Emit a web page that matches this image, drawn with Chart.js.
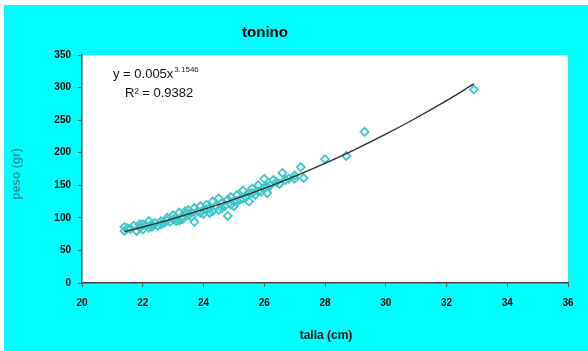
<!DOCTYPE html>
<html>
<head>
<meta charset="utf-8">
<script src="https://cdn.jsdelivr.net/npm/chart.js@4.4.1/dist/chart.umd.min.js"></script>
<style>
  html, body { margin: 0; padding: 0; background: #fff; }
  canvas { display: block; }
</style>
</head>
<body>
<canvas id="chart" width="588" height="351"></canvas>
<script>
// talla (cm) / peso (gr)
const talla = [21.4, 21.4, 21.5, 21.6, 21.7, 21.8, 21.9, 21.9, 22.0, 22.0, 22.1, 22.2, 22.2, 22.3, 22.3, 22.4, 22.5, 22.6,
  22.6, 22.7, 22.8, 22.8, 22.9, 23.0, 23.0, 23.1, 23.1, 23.2, 23.2, 23.3, 23.3, 23.4, 23.4, 23.5, 23.5, 23.6, 23.6, 23.7,
  23.7, 23.8, 23.9, 23.9, 24.0, 24.0, 24.1, 24.1, 24.2, 24.2, 24.3, 24.3, 24.4, 24.5, 24.5, 24.6, 24.6, 24.7, 24.8, 24.8,
  24.9, 24.9, 25.0, 25.0, 25.1, 25.1, 25.2, 25.3, 25.3, 25.4, 25.5, 25.5, 25.6, 25.6, 25.7, 25.8, 25.8, 25.9, 26.0, 26.0,
  26.1, 26.1, 26.2, 26.3, 26.4, 26.5, 26.6, 26.7, 26.8, 27.0, 27.0, 27.2, 27.3, 28.0, 28.7, 29.3, 32.9];
const peso = [80, 86, 84, 83, 88, 80, 85, 90, 82, 90, 88, 95, 85, 90, 86, 92, 88, 95,
  90, 92, 100, 96, 94, 98, 104, 100, 95, 96, 108, 102, 98, 110, 105, 104, 112, 108, 102, 94,
  115, 110, 118, 108, 112, 106, 120, 113, 108, 115, 125, 110, 118, 112, 130, 122, 115, 118, 103, 128,
  132, 120, 125, 118, 135, 126, 128, 142, 130, 132, 138, 125, 145, 138, 135, 150, 141, 140, 160, 146,
  138, 148, 150, 158, 155, 152, 169, 158, 160, 165, 160, 178, 161, 190, 195, 232, 297];

// power trendline as drawn (y = 0.005x^3.1546)
const trendX = [21.4, 22, 23, 24, 25, 26, 27, 28, 29, 30, 31, 32, 32.9];
const trendY = [78.7, 85.9, 98.8, 113.0, 128.5, 145.4, 163.8, 183.7, 205.2, 228.4, 253.3, 279.9, 305.6];

const xTicks = [20, 22, 24, 26, 28, 30, 32, 34, 36];
const yTicks = [0, 50, 100, 150, 200, 250, 300, 350];

const points = talla.map((t, i) => ({ x: t, y: peso[i] }));
const trend = trendX.map((t, i) => ({ x: t, y: trendY[i] }));

const decor = {
  id: 'decor',
  beforeDraw(chart) {
    const { ctx, chartArea: a } = chart;
    ctx.save();
    ctx.fillStyle = '#ffffff';
    ctx.fillRect(0, 0, chart.width, chart.height);
    ctx.fillStyle = '#00ffff';
    ctx.fillRect(4, 5, chart.width - 4, chart.height - 5);
    ctx.fillStyle = '#ffffff';
    ctx.fillRect(a.left, a.top, a.right - a.left, a.bottom - a.top);
    ctx.restore();
  },
  afterDraw(chart) {
    const ctx = chart.ctx;
    ctx.save();
    ctx.fillStyle = '#000';
    ctx.textBaseline = 'middle';
    ctx.textAlign = 'center';
    ctx.font = 'bold 15px "Liberation Sans", Arial, sans-serif';
    ctx.fillText('tonino', 265, 33);

    ctx.fillStyle = '#111';
    ctx.font = 'bold 12px "Liberation Sans", Arial, sans-serif';
    ctx.fillText('talla (cm)', 326, 336);

    ctx.fillStyle = '#1a9aa6';
    ctx.translate(17, 174);
    ctx.rotate(-Math.PI / 2);
    ctx.fillText('peso (gr)', 0, 0);
    ctx.restore();

    // trendline label
    ctx.save();
    ctx.fillStyle = '#111';
    ctx.textAlign = 'left';
    ctx.textBaseline = 'alphabetic';
    ctx.font = '13px "Liberation Sans", Arial, sans-serif';
    const main = 'y = 0.005x';
    ctx.fillText(main, 113, 78);
    const w = ctx.measureText(main).width;
    ctx.font = '8px "Liberation Sans", Arial, sans-serif';
    ctx.fillText('3.1546', 113 + w + 1, 72);
    ctx.font = '13px "Liberation Sans", Arial, sans-serif';
    ctx.fillText('R\u00B2 = 0.9382', 125, 97);
    ctx.restore();
  }
};

const tickFont = { family: '"Liberation Sans", Arial, sans-serif', size: 10, weight: 'bold' };

new Chart(document.getElementById('chart'), {
  type: 'scatter',
  data: {
    datasets: [
      {
        label: 'tendencia',
        data: trend,
        showLine: true,
        borderColor: '#2e2e2e',
        borderWidth: 1.4,
        pointRadius: 0,
        cubicInterpolationMode: 'monotone',
        order: 0
      },
      {
        label: 'tonino',
        data: points,
        pointStyle: 'rectRot',
        pointRadius: 4,
        pointBorderWidth: 1.8,
        borderColor: '#3ec6c6',
        backgroundColor: 'rgba(0,0,0,0)',
        order: 1
      }
    ]
  },
  options: {
    responsive: false,
    animation: false,
    layout: { padding: { top: 55, right: 20, left: 0, bottom: 0 } },
    plugins: {
      legend: { display: false },
      title: { display: false },
      tooltip: { enabled: false }
    },
    scales: {
      x: {
        type: 'linear',
        min: 20,
        max: 36,
        afterBuildTicks: scale => { scale.ticks = xTicks.map(v => ({ value: v })); },
        afterFit: scale => { scale.height = 68; },
        grid: { drawOnChartArea: false, drawTicks: true, tickLength: 4, color: '#555' },
        border: { display: true, color: '#444', width: 1.5 },
        ticks: { color: '#000', font: tickFont, padding: 10 }
      },
      y: {
        type: 'linear',
        min: 0,
        max: 350,
        afterBuildTicks: scale => { scale.ticks = yTicks.map(v => ({ value: v })); },
        afterFit: scale => { scale.width = 82; },
        grid: { drawOnChartArea: false, drawTicks: true, tickLength: 4, color: '#555' },
        border: { display: true, color: '#444', width: 1.5 },
        ticks: { color: '#000', font: tickFont, padding: 7 }
      }
    }
  },
  plugins: [decor]
});
</script>
</body>
</html>
